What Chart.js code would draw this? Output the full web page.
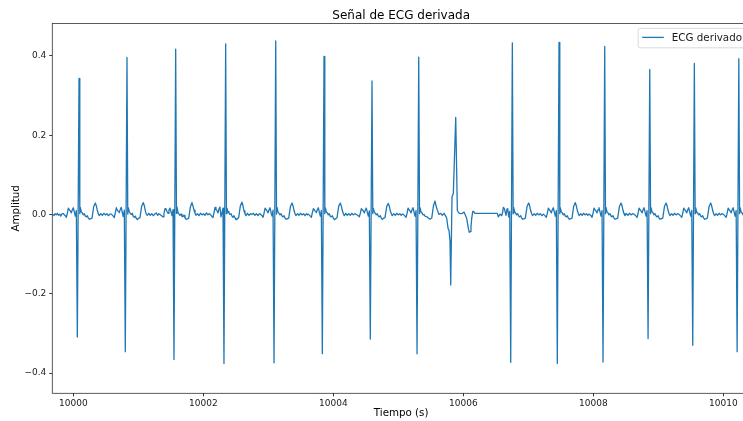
<!DOCTYPE html>
<html>
<head>
<meta charset="utf-8">
<title>Señal de ECG derivada</title>
<script src="https://cdn.jsdelivr.net/npm/chart.js@4.4.0/dist/chart.umd.min.js"></script>
<style>
  html, body { margin: 0; padding: 0; width: 743px; height: 421px; overflow: hidden; background: #fff; }
  #wrap { position: relative; width: 760px; height: 421px; }
</style>
</head>
<body>
<div id="wrap"><canvas id="ecg" width="760" height="421"></canvas></div>
<script>
// Ticks and labels
var ticksX = [10000, 10002, 10004, 10006, 10008, 10010];
var ticksY = [-0.4, -0.2, 0.0, 0.2, 0.4];
var rangoX = [9999.677, 10010.41];
var rangoY = [-0.451, 0.482];
var titulo = 'Señal de ECG derivada';
var etiquetaX = 'Tiempo (s)';
var etiquetaY = 'Amplitud';
var nombreSerie = 'ECG derivado';

// Derived ECG: [time (s), amplitude]
var ecgDerivado = [
  [9999.680,0.001],[9999.702,-0.003],[9999.720,0.002],[9999.738,-0.001],[9999.755,0.003],[9999.772,-0.002],[9999.790,0.001],[9999.808,-0.004],[9999.826,0.002],
  // beat 1
  [9999.847,0.002],[9999.877,-0.003],[9999.893,-0.007],[9999.908,0.003],[9999.924,0.016],[9999.939,0.012],[9999.954,0.009],[9999.970,0.004],[9999.985,0.012],[10000.000,0.017],[10000.016,0.006],[10000.031,-0.004],[10000.047,0.010],
  [10000.062,-0.309],[10000.088,0.343],
  [10000.100,0.002],[10000.108,0.018],[10000.124,0.006],[10000.139,0.004],[10000.154,-0.001],[10000.170,0.002],[10000.185,-0.004],[10000.200,-0.006],[10000.216,-0.003],[10000.231,-0.009],[10000.247,-0.012],[10000.262,-0.011],[10000.288,-0.009],[10000.314,0.020],[10000.339,0.029],[10000.354,0.022],[10000.370,0.010],[10000.385,0.002],[10000.400,-0.003],
  [10000.423,0.002],[10000.447,-0.002],[10000.470,0.003],[10000.494,-0.001],[10000.517,0.002],[10000.540,-0.003],[10000.563,0.001],
  // beat 2
  [10000.585,0.001],[10000.615,-0.004],[10000.631,-0.008],[10000.646,0.004],[10000.662,0.017],[10000.677,0.011],[10000.692,0.008],[10000.708,0.005],[10000.723,0.013],[10000.738,0.018],[10000.754,0.005],[10000.769,-0.005],[10000.785,0.011],
  [10000.800,-0.346],[10000.826,0.396],
  [10000.838,0.001],[10000.846,0.017],[10000.862,0.007],[10000.877,0.003],[10000.892,0.000],[10000.908,0.003],[10000.923,-0.005],[10000.938,-0.007],[10000.954,-0.004],[10000.969,-0.010],[10000.985,-0.013],[10001.000,-0.010],[10001.026,-0.008],[10001.052,0.021],[10001.077,0.030],[10001.092,0.023],[10001.108,0.009],[10001.123,0.001],[10001.138,-0.002],
  [10001.161,0.003],[10001.184,-0.002],[10001.207,0.002],[10001.230,-0.003],[10001.253,0.001],[10001.276,0.004],[10001.299,-0.002],[10001.316,0.002],
  // beat 3
  [10001.334,0.000],[10001.364,-0.004],[10001.380,-0.006],[10001.395,0.002],[10001.411,0.015],[10001.426,0.013],[10001.441,0.008],[10001.457,0.003],[10001.472,0.011],[10001.487,0.016],[10001.503,0.007],[10001.518,-0.003],[10001.534,0.012],
  [10001.549,-0.366],[10001.575,0.417],
  [10001.587,0.003],[10001.595,0.019],[10001.611,0.005],[10001.626,0.005],[10001.641,-0.002],[10001.657,0.001],[10001.672,-0.005],[10001.687,-0.005],[10001.703,-0.002],[10001.718,-0.008],[10001.734,-0.012],[10001.749,-0.012],[10001.775,-0.010],[10001.801,0.019],[10001.826,0.030],[10001.841,0.021],[10001.857,0.011],[10001.872,0.003],[10001.887,-0.002],
  [10001.910,0.002],[10001.933,-0.003],[10001.956,0.003],[10001.979,-0.001],[10002.002,0.002],[10002.025,-0.002],[10002.048,0.004],[10002.071,-0.001],[10002.088,0.002],
  // beat 4
  [10002.103,0.001],[10002.133,-0.005],[10002.149,-0.008],[10002.164,0.004],[10002.180,0.018],[10002.195,0.012],[10002.210,0.010],[10002.226,0.004],[10002.241,0.014],[10002.256,0.019],[10002.272,-0.006],[10002.287,0.004],[10002.303,0.016],
  [10002.318,-0.376],[10002.344,0.430],
  [10002.356,0.002],[10002.364,0.016],[10002.380,0.007],[10002.395,0.004],[10002.410,0.000],[10002.426,0.002],[10002.441,-0.004],[10002.456,-0.007],[10002.472,-0.003],[10002.487,-0.008],[10002.503,-0.013],[10002.518,-0.011],[10002.544,-0.008],[10002.570,0.022],[10002.595,0.031],[10002.610,0.022],[10002.626,0.009],[10002.641,0.002],[10002.656,-0.003],
  [10002.679,0.003],[10002.702,-0.002],[10002.725,0.002],[10002.748,0.000],[10002.771,0.003],[10002.794,-0.002],[10002.817,0.002],[10002.840,-0.003],[10002.857,0.001],
  // beat 5
  [10002.873,0.002],[10002.903,-0.003],[10002.919,-0.007],[10002.934,0.003],[10002.950,0.016],[10002.965,0.013],[10002.980,0.009],[10002.996,0.004],[10003.011,0.012],[10003.026,0.017],[10003.042,0.005],[10003.057,-0.004],[10003.073,0.011],
  [10003.088,-0.374],[10003.114,0.438],
  [10003.126,0.001],[10003.134,0.018],[10003.150,0.006],[10003.165,0.003],[10003.180,-0.001],[10003.196,0.002],[10003.211,-0.004],[10003.226,-0.006],[10003.242,-0.003],[10003.257,-0.009],[10003.273,-0.012],[10003.288,-0.011],[10003.314,-0.009],[10003.340,0.020],[10003.365,0.029],[10003.380,0.022],[10003.396,0.010],[10003.411,0.002],[10003.426,-0.003],
  [10003.449,0.002],[10003.472,-0.002],[10003.495,0.003],[10003.518,-0.001],[10003.541,0.002],[10003.564,-0.003],[10003.587,0.002],[10003.601,-0.001],
  // beat 6
  [10003.616,0.001],[10003.646,-0.004],[10003.662,-0.007],[10003.677,0.004],[10003.693,0.015],[10003.708,0.012],[10003.723,0.008],[10003.739,0.005],[10003.754,0.012],[10003.769,0.017],[10003.785,0.006],[10003.800,-0.004],[10003.816,0.010],
  [10003.831,-0.351],[10003.857,0.399],
  [10003.869,0.002],[10003.877,0.017],[10003.893,0.006],[10003.908,0.004],[10003.923,-0.001],[10003.939,0.002],[10003.954,-0.005],[10003.969,-0.006],[10003.985,-0.003],[10004.000,-0.009],[10004.016,-0.013],[10004.031,-0.011],[10004.057,-0.008],[10004.083,0.021],[10004.108,0.029],[10004.123,0.021],[10004.139,0.010],[10004.154,0.002],[10004.169,-0.003],
  [10004.192,0.003],[10004.215,-0.002],[10004.238,0.002],[10004.261,-0.002],[10004.284,0.003],[10004.307,-0.001],[10004.330,0.002],
  // beat 7
  [10004.354,0.000],[10004.384,-0.003],[10004.400,-0.006],[10004.415,0.003],[10004.431,0.015],[10004.446,0.012],[10004.461,0.009],[10004.477,0.004],[10004.492,0.011],[10004.507,0.016],[10004.523,0.006],[10004.538,-0.004],[10004.554,0.009],
  [10004.569,-0.314],[10004.595,0.337],
  [10004.607,0.002],[10004.615,0.016],[10004.631,0.006],[10004.646,0.003],[10004.661,-0.001],[10004.677,0.002],[10004.692,-0.004],[10004.707,-0.006],[10004.723,-0.003],[10004.738,-0.009],[10004.754,-0.012],[10004.769,-0.010],[10004.795,-0.008],[10004.821,0.020],[10004.846,0.028],[10004.861,0.021],[10004.877,0.009],[10004.892,0.002],[10004.907,-0.003],
  [10004.930,0.002],[10004.953,-0.002],[10004.976,0.003],[10004.999,-0.001],[10005.022,0.002],[10005.045,-0.002],[10005.060,0.001],
  // beat 8
  [10005.073,0.001],[10005.103,-0.004],[10005.119,-0.007],[10005.134,0.003],[10005.150,0.016],[10005.165,0.012],[10005.180,0.009],[10005.196,0.004],[10005.211,0.012],[10005.226,0.017],[10005.242,0.006],[10005.257,-0.004],[10005.273,0.010],
  [10005.288,-0.351],[10005.314,0.397],
  [10005.326,0.002],[10005.334,0.017],[10005.350,0.006],[10005.365,0.004],[10005.380,-0.001],[10005.396,0.000],[10005.411,-0.004],[10005.426,-0.005],[10005.442,-0.006],[10005.457,-0.008],[10005.473,-0.010],[10005.488,-0.012],[10005.514,-0.009],[10005.540,0.022],[10005.565,0.034],[10005.580,0.022],
  // ectopic beat
  [10005.600,0.011],[10005.626,0.000],[10005.652,0.003],[10005.677,-0.002],[10005.703,0.003],[10005.729,-0.004],[10005.745,-0.010],[10005.765,-0.035],[10005.780,-0.040],[10005.795,-0.066],
  [10005.806,-0.178],[10005.826,0.045],[10005.846,0.053],[10005.883,0.245],[10005.908,0.010],[10005.926,0.005],
  [10005.938,0.003],[10005.975,0.002],[10006.011,0.006],[10006.037,-0.004],[10006.052,-0.010],[10006.077,-0.035],[10006.092,-0.045],[10006.108,-0.043],[10006.118,-0.030],[10006.129,-0.010],[10006.145,0.008],[10006.160,0.007],[10006.180,0.003],
  [10006.523,0.003],[10006.538,-0.006],[10006.565,0.001],[10006.591,-0.003],[10006.606,0.006],[10006.615,0.018],[10006.631,0.015],[10006.646,0.005],[10006.657,-0.002],[10006.672,0.014],[10006.683,0.015],[10006.698,-0.006],[10006.714,0.008],
  // beat 10
  [10006.729,-0.373],[10006.754,0.433],
  [10006.766,0.002],[10006.774,0.018],[10006.790,0.006],[10006.805,0.004],[10006.820,-0.001],[10006.836,0.002],[10006.851,-0.004],[10006.866,-0.006],[10006.882,-0.003],[10006.897,-0.009],[10006.913,-0.012],[10006.928,-0.011],[10006.954,-0.009],[10006.980,0.020],[10007.005,0.029],[10007.020,0.022],[10007.036,0.010],[10007.051,0.002],[10007.066,-0.003],
  [10007.090,0.002],[10007.113,-0.002],[10007.137,0.003],[10007.160,-0.001],[10007.184,0.002],[10007.207,-0.003],
  // beat 11
  [10007.231,0.001],[10007.261,-0.004],[10007.277,-0.007],[10007.292,0.003],[10007.308,0.016],[10007.323,0.012],[10007.338,0.009],[10007.354,0.004],[10007.369,0.012],[10007.384,0.017],[10007.400,0.006],[10007.415,-0.004],[10007.431,0.010],
  [10007.446,-0.376],[10007.472,0.434],
  [10007.484,0.002],[10007.492,0.017],[10007.508,0.006],[10007.523,0.004],[10007.538,-0.001],[10007.554,0.002],[10007.569,-0.004],[10007.584,-0.006],[10007.600,-0.003],[10007.615,-0.009],[10007.631,-0.012],[10007.646,-0.011],[10007.672,-0.009],[10007.698,0.021],[10007.723,0.030],[10007.738,0.022],[10007.754,0.010],[10007.769,0.002],[10007.784,-0.003],
  [10007.806,0.002],[10007.828,-0.002],[10007.850,0.003],[10007.872,-0.001],[10007.894,0.002],[10007.914,-0.002],
  // beat 12
  [10007.934,0.001],[10007.964,-0.003],[10007.980,-0.007],[10007.995,0.003],[10008.011,0.016],[10008.026,0.012],[10008.041,0.009],[10008.057,0.004],[10008.072,0.012],[10008.087,0.017],[10008.103,0.006],[10008.118,-0.004],[10008.134,0.010],
  [10008.149,-0.372],[10008.175,0.424],
  [10008.187,0.002],[10008.195,0.018],[10008.211,0.006],[10008.226,0.004],[10008.241,-0.001],[10008.257,0.002],[10008.272,-0.004],[10008.287,-0.006],[10008.303,-0.003],[10008.318,-0.009],[10008.334,-0.012],[10008.349,-0.011],[10008.375,-0.009],[10008.401,0.020],[10008.426,0.029],[10008.441,0.022],[10008.457,0.010],[10008.472,0.002],[10008.487,-0.003],
  [10008.510,0.002],[10008.533,-0.002],[10008.556,0.003],[10008.580,-0.001],[10008.604,0.002],
  // beat 13
  [10008.627,0.001],[10008.657,-0.004],[10008.673,-0.007],[10008.688,0.003],[10008.704,0.016],[10008.719,0.012],[10008.734,0.009],[10008.750,0.004],[10008.765,0.012],[10008.780,0.017],[10008.796,0.006],[10008.811,-0.004],[10008.827,0.010],
  [10008.842,-0.313],[10008.868,0.366],
  [10008.880,0.002],[10008.888,0.017],[10008.904,0.006],[10008.919,0.004],[10008.934,-0.001],[10008.950,0.002],[10008.965,-0.004],[10008.980,-0.006],[10008.996,-0.003],[10009.011,-0.009],[10009.027,-0.012],[10009.042,-0.011],[10009.068,-0.009],[10009.094,0.020],[10009.119,0.029],[10009.134,0.022],[10009.150,0.010],[10009.165,0.002],[10009.180,-0.003],
  [10009.203,0.002],[10009.226,-0.002],[10009.249,0.003],[10009.272,-0.001],[10009.294,0.002],
  // beat 14
  [10009.314,0.001],[10009.344,-0.004],[10009.360,-0.007],[10009.375,0.003],[10009.391,0.016],[10009.406,0.012],[10009.421,0.009],[10009.437,0.004],[10009.452,0.012],[10009.467,0.017],[10009.483,0.006],[10009.498,-0.004],[10009.514,0.010],
  [10009.529,-0.330],[10009.554,0.381],
  [10009.566,0.002],[10009.574,0.017],[10009.590,0.006],[10009.605,0.004],[10009.620,-0.001],[10009.636,0.002],[10009.651,-0.004],[10009.666,-0.006],[10009.682,-0.003],[10009.697,-0.009],[10009.713,-0.012],[10009.728,-0.011],[10009.754,-0.009],[10009.780,0.020],[10009.805,0.029],[10009.820,0.022],[10009.836,0.010],[10009.851,0.002],[10009.866,-0.003],
  [10009.889,0.002],[10009.912,-0.002],[10009.935,0.003],[10009.958,-0.001],[10009.978,0.002],
  // beat 15
  [10009.997,0.001],[10010.027,-0.004],[10010.043,-0.007],[10010.058,0.003],[10010.074,0.016],[10010.089,0.012],[10010.104,0.009],[10010.120,0.004],[10010.135,0.012],[10010.150,0.017],[10010.166,0.006],[10010.181,-0.004],[10010.197,0.010],
  [10010.212,-0.346],[10010.238,0.393],
  [10010.250,0.002],[10010.258,0.017],[10010.274,0.006],[10010.289,0.004],[10010.304,-0.001],[10010.320,0.002],[10010.335,-0.004],[10010.350,-0.006],[10010.366,-0.003],[10010.381,-0.009],[10010.397,-0.012],[10010.412,-0.011]
];

var AZUL = '#1f77b4';
var FUENTE = 'DejaVu Sans';

// axes frame (all four spines)
var marco = {
  id: 'marco',
  afterDatasetsDraw: function (chart) {
    var a = chart.chartArea, c = chart.ctx;
    c.save();
    c.strokeStyle = '#333';
    c.lineWidth = 0.8;
    c.strokeRect(a.left, a.top, a.right - a.left, a.bottom - a.top);
    c.restore();
  }
};

// legend box in the upper right corner of the axes
var leyenda = {
  id: 'leyenda',
  afterDraw: function (chart) {
    var a = chart.chartArea, c = chart.ctx;
    c.save();
    c.font = '10.3px "' + FUENTE + '"';
    var tw = c.measureText(nombreSerie).width;
    var h = 19.4;
    var right = a.right - 4;
    var top = a.top + 5;
    var w = 4 + 21.7 + 8 + tw + 4;
    var left = right - w;
    var r = 2;
    c.beginPath();
    c.moveTo(left + r, top);
    c.lineTo(right - r, top);
    c.quadraticCurveTo(right, top, right, top + r);
    c.lineTo(right, top + h - r);
    c.quadraticCurveTo(right, top + h, right - r, top + h);
    c.lineTo(left + r, top + h);
    c.quadraticCurveTo(left, top + h, left, top + h - r);
    c.lineTo(left, top + r);
    c.quadraticCurveTo(left, top, left + r, top);
    c.closePath();
    c.fillStyle = 'rgba(255,255,255,0.8)';
    c.fill();
    c.strokeStyle = '#d0d0d0';
    c.lineWidth = 0.8;
    c.stroke();

    var my = top + 9;
    c.beginPath();
    c.moveTo(left + 4, my);
    c.lineTo(left + 25.7, my);
    c.strokeStyle = AZUL;
    c.lineWidth = 1.3;
    c.stroke();

    c.fillStyle = '#1a1a1a';
    c.textAlign = 'left';
    c.textBaseline = 'middle';
    c.fillText(nombreSerie, left + 33.7, my + 0.5);
    c.restore();
  }
};

function fmtY(v) {
  return v.toFixed(1).replace('-', '\u2212');
}

new Chart(document.getElementById('ecg').getContext('2d'), {
  type: 'line',
  plugins: [marco, leyenda],
  data: {
    datasets: [{
      label: nombreSerie,
      data: ecgDerivado.map(function (p) { return { x: p[0], y: p[1] }; }),
      borderColor: AZUL,
      borderWidth: 1.3,
      borderJoinStyle: 'round',
      pointRadius: 0,
      tension: 0,
      fill: false
    }]
  },
  options: {
    responsive: false,
    animation: false,
    devicePixelRatio: 1,
    layout: { padding: { left: 0, right: 10, top: 0, bottom: 0 } },
    plugins: {
      legend: { display: false },
      tooltip: { enabled: false },
      title: {
        display: true,
        fullSize: false,
        text: titulo,
        color: '#000',
        font: { family: FUENTE, size: 12, weight: 'normal' },
        padding: { top: 9, bottom: 0 }
      }
    },
    scales: {
      x: {
        type: 'linear',
        min: rangoX[0],
        max: rangoX[1],
        afterBuildTicks: function (s) { s.ticks = ticksX.map(function (v) { return { value: v }; }); },
        afterFit: function (s) { s.height = 27.7; },
        grid: { drawOnChartArea: false, drawTicks: true, tickLength: 3, tickColor: '#333' },
        border: { display: false },
        ticks: {
          color: '#1a1a1a',
          padding: 2,
          maxRotation: 0,
          autoSkip: false,
          font: { family: FUENTE, size: 9 },
          callback: function (v) { return String(v); }
        },
        title: {
          display: true,
          text: etiquetaX,
          color: '#000',
          font: { family: FUENTE, size: 10.3 },
          padding: { top: 0, bottom: 1.5 }
        }
      },
      y: {
        type: 'linear',
        min: rangoY[0],
        max: rangoY[1],
        afterBuildTicks: function (s) { s.ticks = ticksY.map(function (v) { return { value: v }; }); },
        afterFit: function (s) { s.width = 52.3; },
        grid: { drawOnChartArea: false, drawTicks: true, tickLength: 3, tickColor: '#333' },
        border: { display: false },
        ticks: {
          color: '#1a1a1a',
          padding: 3,
          autoSkip: false,
          font: { family: FUENTE, size: 9 },
          callback: function (v) { return fmtY(v); }
        },
        title: {
          display: true,
          text: etiquetaY,
          color: '#000',
          font: { family: FUENTE, size: 10.3 },
          padding: { top: 9.8, bottom: 0 }
        }
      }
    }
  }
});
</script>
</body>
</html>
